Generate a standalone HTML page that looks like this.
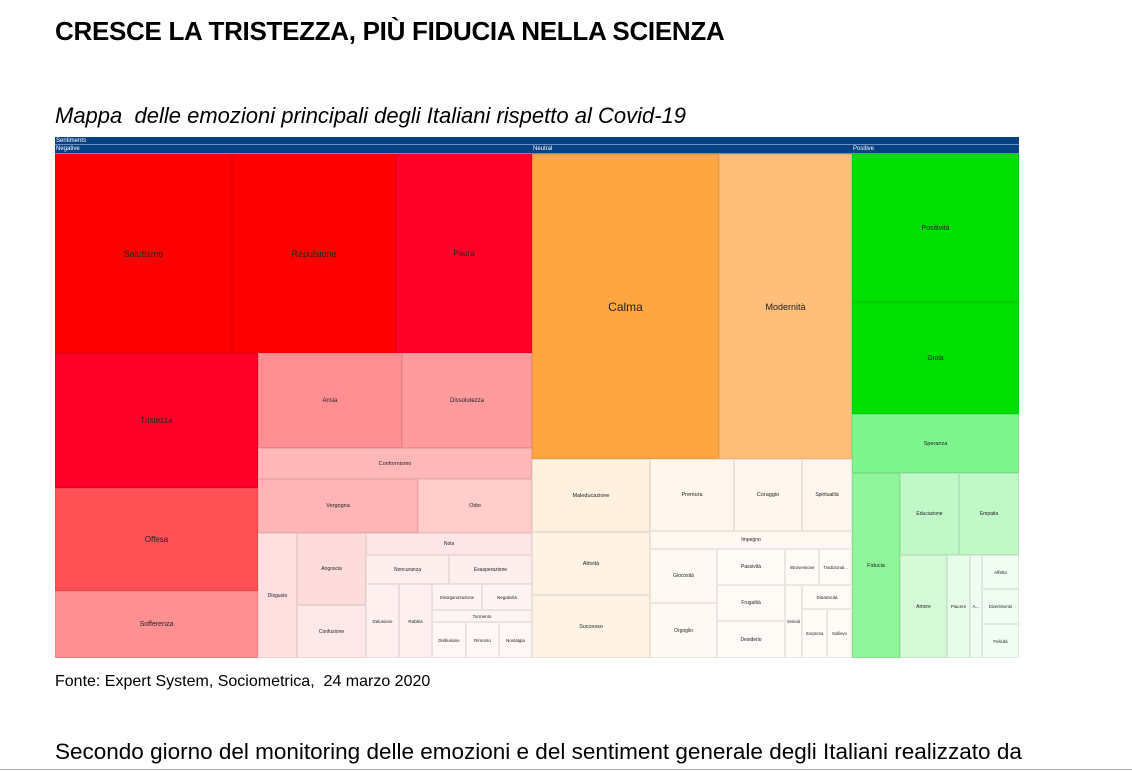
<!DOCTYPE html>
<html><head><meta charset="utf-8"><style>
body{margin:0;width:1132px;height:771px;background:#fff;position:relative;overflow:hidden;font-family:"Liberation Sans",sans-serif}
.t{position:absolute;white-space:nowrap}
.c{position:absolute;box-sizing:border-box;border:1px solid rgba(0,0,0,0.08);display:flex;align-items:center;justify-content:center;font-size:5.5px;color:#222;overflow:hidden;white-space:nowrap}
.h{position:absolute;background:#064183;color:#fff;font-size:6px;line-height:8px;padding-left:1px;box-sizing:border-box;border-bottom:1px solid #6f8fbf}
</style></head><body>
<div class="t" style="left:55px;top:16px;font-size:26px;font-weight:bold;letter-spacing:-0.3px">CRESCE LA TRISTEZZA, PIÙ FIDUCIA NELLA SCIENZA</div>
<div class="t" style="left:55px;top:103px;font-size:22px;font-style:italic">Mappa&nbsp; delle emozioni principali degli Italiani rispetto al Covid-19</div>
<div class="h" style="left:55px;top:137px;width:964px;height:8px">Sentiments</div>
<div class="h" style="left:55px;top:145px;width:477px;height:9px">Negative</div>
<div class="h" style="left:532px;top:145px;width:320px;height:9px">Neutral</div>
<div class="h" style="left:852px;top:145px;width:167px;height:9px">Positive</div>
<div id="m"></div>
<div class="t" style="left:55px;top:673px;font-size:16px">Fonte: Expert System, Sociometrica,&nbsp; 24 marzo 2020</div>
<div class="t" style="left:55px;top:739px;font-size:22.5px">Secondo giorno del monitoring delle emozioni e del sentiment generale degli Italiani realizzato da</div>
<div style="position:absolute;left:0;top:769px;width:1132px;height:1px;background:#aaa"></div>
<script>
var d=[
["Salutismo",55,154,232,353,"#ff0000",9],["Repulsione",232,154,396,353,"#ff0000",9],["Paura",396,154,532,353,"#ff0028",8],
["Tristezza",55,353,258,488,"#ff0028",8],["Offesa",55,488,258,591,"#ff5055",8],["Sofferenza",55,591,258,658,"#ff9092",7],
["Ansia",258,353,402,448,"#ff8f92",6],["Dissolutezza",402,353,532,448,"#ff9b9d",6],["Conformismo",258,448,532,479,"#ffb8b8",5.5],
["Vergogna",258,479,418,533,"#ffb5b5",5.5],["Odio",418,479,532,533,"#ffcccc",5.5],["Disgusto",258,533,297,658,"#ffe0e0",5],
["Angoscia",297,533,366,605,"#ffdcdc",5],["Confusione",297,605,366,658,"#ffe8e8",5],["Noia",366,533,532,555,"#ffe6e6",5],
["Noncuranza",366,555,449,584,"#ffeeee",5],["Esasperazione",449,555,532,584,"#ffeeee",5],["Delusione",366,584,399,658,"#fff0f0",4.5],
["Rabbia",399,584,432,658,"#fff0f0",4.5],["Disorganizzazione",432,584,482,610,"#fff4f4",4.2],["Negatività",482,584,532,610,"#fff4f4",4.5],
["Tormento",432,610,532,622,"#fff4f4",4.5],["Disillusione",432,622,466,658,"#fff6f6",4.2],["Rimorso",466,622,499,658,"#fff6f6",4.5],["Nostalgia",499,622,532,658,"#fff6f6",4.5],
["Calma",532,154,719,459,"#ffa640",12],["Modernità",719,154,852,459,"#ffbf7a",9],
["Maleducazione",532,459,650,532,"#fff0e0",5.5],["Premura",650,459,734,531,"#fff7ee",5.5],["Coraggio",734,459,802,531,"#fff7ee",5.5],["Spiritualità",802,459,852,531,"#fff7ee",5],
["Attività",532,532,650,595,"#fff3e6",5.5],["Successo",532,595,650,658,"#fff3e6",5.5],["Impegno",650,531,852,549,"#fff9f2",5],
["Giocosità",650,549,717,603,"#fff9f3",5],["Orgoglio",650,603,717,658,"#fff9f3",5],["Passività",717,549,785,585,"#fffaf5",5],
["Frugalità",717,585,785,621,"#fffaf5",5],["Desiderio",717,621,785,658,"#fffaf5",5],["Introversione",785,549,819,585,"#fffbf7",4.3],
["Tradizional...",819,549,852,585,"#fffbf7",4.3],["Serietà",785,585,802,658,"#fffbf7",4.2],["Dinamicità",802,585,852,609,"#fffbf7",4.5],
["Sorpresa",802,609,827,658,"#fffbf7",4.3],["Sollievo",827,609,852,658,"#fffbf7",4.3],
["Positività",852,154,1019,302,"#00e000",7],["Gioia",852,302,1019,414,"#00e000",7],["Speranza",852,414,1019,473,"#7ef58e",5.5],
["Fiducia",852,473,900,658,"#8ef59a",5.5],["Educazione",900,473,959,555,"#c0f8c8",5],["Empatia",959,473,1019,555,"#c0f8c8",5],
["Amore",900,555,947,658,"#d4fad8",5],["Piacere",947,555,970,658,"#e8fcea",4.5],["A...",970,555,982,658,"#effdf0",4.5],
["Affetto",982,555,1019,589,"#f0fdf1",4.5],["Divertimento",982,589,1019,624,"#f0fdf1",4.2],["Felicità",982,624,1019,658,"#f0fdf1",4.5]];
var h="";d.forEach(function(e){h+='<div class="c" style="left:'+e[1]+'px;top:'+e[2]+'px;width:'+(e[3]-e[1])+'px;height:'+(e[4]-e[2])+'px;background:'+e[5]+';font-size:'+e[6]+'px">'+e[0]+'</div>';});
document.getElementById("m").innerHTML=h;
</script>
</body></html>
